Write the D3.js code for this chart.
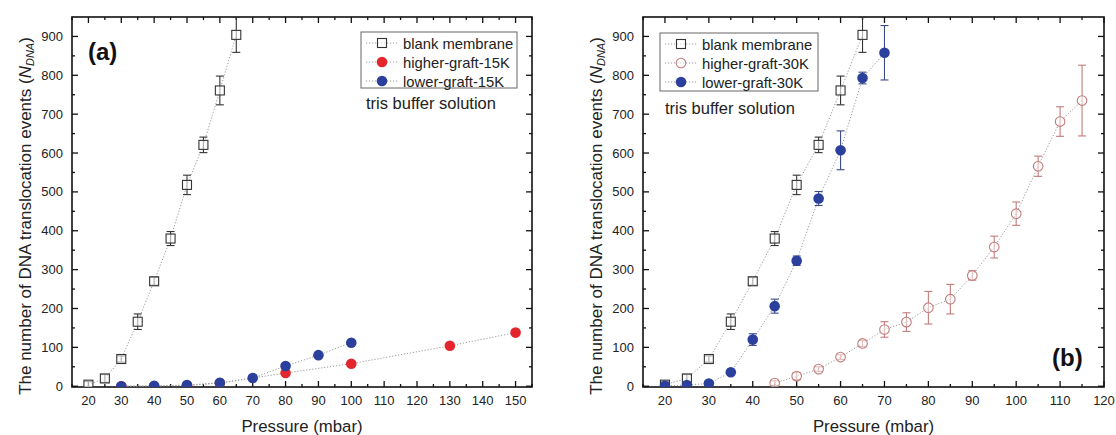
<!DOCTYPE html>
<html><head><meta charset="utf-8">
<script src="https://cdn.jsdelivr.net/npm/d3@7"></script>
<style>
body{margin:0;background:#fff;}
svg{display:block;font-family:Arial,"Liberation Sans",sans-serif;}
</style></head>
<body><svg id="c" width="1116" height="435"></svg>
<script>
// ---- Data ----
// Panel (a)
const blankX = [20,25,30,35,40,45,50,55,60,65];
const blankY = [4,20,70,166,270,380,518,621,761,904];
const blankErr = [8,10,8,20,10,18,25,20,37,45];

const high15X = [30,40,50,60,80,100,130,150];
const high15Y = [0,0,2,8,34,58,104,138];

const low15X = [30,40,50,60,70,80,90,100];
const low15Y = [0,1,3,9,21,52,80,112];

// Panel (b)
const low30X = [20,25,30,35,40,45,50,55,60,65,70];
const low30Y = [1,3,7,36,120,206,323,483,607,793,858];
const low30Err = [6,4,4,4,15,18,12,18,50,15,70];

const high30X = [45,50,55,60,65,70,75,80,85,90,95,100,105,110,115];
const high30Y = [8,26,44,75,110,146,165,202,224,285,358,444,566,681,735];
const high30Err = [6,9,6,6,8,20,24,42,38,12,28,30,26,38,91];

const yTicks = [0,100,200,300,400,500,600,700,800,900];
const xTicksA = [20,30,40,50,60,70,80,90,100,110,120,130,140,150];
const xTicksB = [20,30,40,50,60,70,80,90,100,110,120];

const legendA = ["blank membrane","higher-graft-15K","lower-graft-15K"];
const legendB = ["blank membrane","higher-graft-30K","lower-graft-30K"];

// ---- Styles ----
const C = {
  sq:"#333", blue:"#2b3f9c", red:"#e3262b", circ:"#c07c7a", line:"#9a9a9a"
};

const svg = d3.select("#c");

function panel(opt){
  const g = svg.append("g");
  const x = d3.scaleLinear().domain(opt.xd).range([opt.x0,opt.x1]);
  const y = d3.scaleLinear().domain([-2,950]).range([387,17]);
  const clipId = "clip"+opt.id;
  svg.append("clipPath").attr("id",clipId).append("rect")
    .attr("x",opt.x0).attr("y",17).attr("width",opt.x1-opt.x0).attr("height",370);

  const majX = opt.xTicks;
  const minX = d3.range(opt.xd[0], opt.xd[1]+0.01, 5).filter(v=>v%10!==0);
  const yMin = d3.range(50,950,100);
  const tk = g.append("g").attr("stroke","#111").attr("stroke-width",1.3);
  majX.forEach(v=>{
    tk.append("line").attr("x1",x(v)).attr("x2",x(v)).attr("y1",387).attr("y2",381);
    tk.append("line").attr("x1",x(v)).attr("x2",x(v)).attr("y1",17).attr("y2",23);
  });
  minX.forEach(v=>{
    tk.append("line").attr("x1",x(v)).attr("x2",x(v)).attr("y1",387).attr("y2",384);
    tk.append("line").attr("x1",x(v)).attr("x2",x(v)).attr("y1",17).attr("y2",20);
  });
  yTicks.forEach(v=>{
    tk.append("line").attr("x1",opt.x0).attr("x2",opt.x0+6).attr("y1",y(v)).attr("y2",y(v));
    tk.append("line").attr("x1",opt.x1).attr("x2",opt.x1-6).attr("y1",y(v)).attr("y2",y(v));
  });
  yMin.forEach(v=>{
    tk.append("line").attr("x1",opt.x0).attr("x2",opt.x0+3).attr("y1",y(v)).attr("y2",y(v));
    tk.append("line").attr("x1",opt.x1).attr("x2",opt.x1-3).attr("y1",y(v)).attr("y2",y(v));
  });
  g.append("rect").attr("x",opt.x0).attr("y",17).attr("width",opt.x1-opt.x0).attr("height",370)
    .attr("fill","none").attr("stroke","#111").attr("stroke-width",1.6);

  g.append("g").selectAll("text").data(majX).join("text")
    .attr("x",d=>x(d)).attr("y",405).attr("text-anchor","middle")
    .attr("font-size",13).attr("fill","#222").text(d=>d);
  g.append("g").selectAll("text").data(yTicks).join("text")
    .attr("x",opt.x0-9).attr("y",d=>y(d)+4.5).attr("text-anchor","end")
    .attr("font-size",13).attr("fill","#222").text(d=>d);

  g.append("text").attr("x",(opt.x0+opt.x1)/2).attr("y",432).attr("text-anchor","middle")
    .attr("font-size",16.8).attr("fill","#222").text("Pressure (mbar)");
  const yt = g.append("text").attr("transform",`translate(${opt.x0-41},216) rotate(-90)`)
    .attr("text-anchor","middle").attr("font-size",17).attr("fill","#222");
  yt.append("tspan").text("The number of DNA translocation events (");
  yt.append("tspan").attr("font-style","italic").text("N");
  yt.append("tspan").attr("font-style","italic").attr("font-size",11).attr("dy",3).text("DNA");
  yt.append("tspan").attr("dy",-3).text(")");

  const pg = g.append("g").attr("clip-path",`url(#${clipId})`);
  return {g, pg, x, y};
}

function series(P, xs, ys, errs, type){
  const {pg,x,y} = P;
  const pts = xs.map((v,i)=>({x:v,y:ys[i],e:errs?errs[i]:0}));
  const line = d3.line().x(d=>x(d.x)).y(d=>y(d.y));
  pg.append("path").datum(pts).attr("d",line).attr("fill","none")
    .attr("stroke",C.line).attr("stroke-width",1).attr("stroke-dasharray","1.2,1.8");
  const ecol = type==="sq"?"#333":type==="circ"?C.circ:"#3d4a8a";
  if(errs){
    const eg = pg.append("g").attr("stroke",ecol).attr("stroke-width",1.1);
    pts.forEach(d=>{
      eg.append("line").attr("x1",x(d.x)).attr("x2",x(d.x)).attr("y1",y(d.y-d.e)).attr("y2",y(d.y+d.e));
      [d.y-d.e,d.y+d.e].forEach(v=>eg.append("line").attr("x1",x(d.x)-4).attr("x2",x(d.x)+4).attr("y1",y(v)).attr("y2",y(v)));
    });
  }
  drawMarkers(pg, pts.map(d=>[x(d.x),y(d.y)]), type);
}

function drawMarkers(g, pxs, type){
  pxs.forEach(([px,py])=>{
    if(type==="sq") g.append("rect").attr("x",px-4.5).attr("y",py-4.5).attr("width",9).attr("height",9)
      .attr("fill","#fff").attr("fill-opacity",0.6).attr("stroke",C.sq).attr("stroke-width",1.1);
    else if(type==="circ") g.append("circle").attr("cx",px).attr("cy",py).attr("r",4.8)
      .attr("fill","#fff").attr("fill-opacity",0.5).attr("stroke",C.circ).attr("stroke-width",1.1);
    else g.append("circle").attr("cx",px).attr("cy",py).attr("r",5.3)
      .attr("fill",type==="red"?C.red:C.blue);
  });
}

function legend(P, bx, by, bw, bh, labels, types){
  const g = P.g.append("g");
  g.append("rect").attr("x",bx).attr("y",by).attr("width",bw).attr("height",bh)
    .attr("fill","#fff").attr("stroke","#666").attr("stroke-width",1);
  labels.forEach((l,i)=>{
    const cy = by+11+i*19;
    g.append("line").attr("x1",bx+5).attr("x2",bx+38).attr("y1",cy).attr("y2",cy)
      .attr("stroke",C.line).attr("stroke-dasharray","1.2,1.8");
    drawMarkers(g, [[bx+21,cy]], types[i]);
    g.append("text").attr("x",bx+42).attr("y",cy+5.5).attr("font-size",14.8).attr("fill","#222").text(l);
  });
}

// Panel (a)
const A = panel({id:"a", x0:72, x1:532, xd:[15,155], xTicks:xTicksA});
series(A, blankX, blankY, blankErr, "sq");
series(A, high15X, high15Y, null, "red");
series(A, low15X, low15Y, null, "blue");
legend(A, 361, 32, 156, 56, legendA, ["sq","red","blue"]);
A.g.append("text").attr("x",366).attr("y",109).attr("font-size",16.5).attr("fill","#222").text("tris buffer solution");
A.g.append("text").attr("x",88).attr("y",60).attr("font-size",24).attr("font-weight","bold").attr("fill","#111").text("(a)");

// Panel (b)
const B = panel({id:"b", x0:643, x1:1104, xd:[15,120], xTicks:xTicksB});
series(B, blankX, blankY, blankErr, "sq");
series(B, high30X, high30Y, high30Err, "circ");
series(B, low30X, low30Y, low30Err, "blue");
legend(B, 660, 33, 158, 58, legendB, ["sq","circ","blue"]);
B.g.append("text").attr("x",665).attr("y",114).attr("font-size",16.5).attr("fill","#222").text("tris buffer solution");
B.g.append("text").attr("x",1052).attr("y",366).attr("font-size",24).attr("font-weight","bold").attr("fill","#111").text("(b)");
</script></body></html>
